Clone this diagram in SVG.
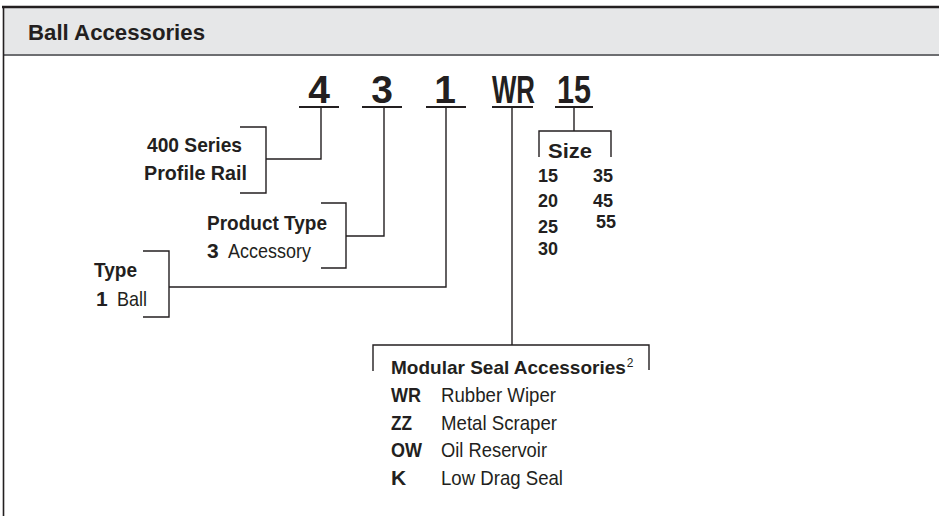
<svg xmlns="http://www.w3.org/2000/svg" width="939" height="516" viewBox="0 0 939 516">
<style>
.b{font-family:"Liberation Sans",Arial,sans-serif;font-weight:bold;fill:#231f20}
.r{font-family:"Liberation Sans",Arial,sans-serif;font-weight:normal;fill:#231f20}
.big{font-size:39px}
.lab{font-size:21px}
.sz{font-size:18px}
.ln{fill:none;stroke:#231f20;stroke-width:1.4}
.ul{fill:none;stroke:#231f20;stroke-width:2.2}
</style>
<rect width="939" height="516" fill="#ffffff"/>
<g id="frame">
  <rect x="3" y="7" width="940" height="48" fill="#e6e7e8"/>
  <line x1="2" y1="7" x2="939" y2="7" stroke="#231f20" stroke-width="2.5"/>
  <line x1="3" y1="55" x2="939" y2="55" stroke="#6d6e71" stroke-width="2"/>
  <line x1="3.5" y1="6" x2="3.5" y2="516" stroke="#231f20" stroke-width="1.6"/>
  <text class="b" x="28" y="40" font-size="22" textLength="177" lengthAdjust="spacingAndGlyphs">Ball Accessories</text>
</g>
<g id="code-4">
  <text class="b big" x="319" y="103" text-anchor="middle">4</text>
  <line class="ul" x1="299" y1="107" x2="339" y2="107"/>
</g>
<g id="code-3">
  <text class="b big" x="382" y="103" text-anchor="middle">3</text>
  <line class="ul" x1="362" y1="107" x2="402" y2="107"/>
</g>
<g id="code-1">
  <text class="b big" x="445" y="103" text-anchor="middle">1</text>
  <line class="ul" x1="426" y1="107" x2="466" y2="107"/>
</g>
<g id="code-WR">
  <text class="b big" x="492" y="103" textLength="43" lengthAdjust="spacingAndGlyphs">WR</text>
  <line class="ul" x1="492" y1="107" x2="533" y2="107"/>
</g>
<g id="code-15">
  <text class="b big" x="557" y="103" textLength="34" lengthAdjust="spacingAndGlyphs">15</text>
  <line class="ul" x1="555" y1="107" x2="593" y2="107"/>
</g>
<g id="connectors">
  <path class="ln" d="M321 107 V159 H266"/>
  <path class="ln" d="M384 107 V236 H346"/>
  <path class="ln" d="M446 107 V287 H169"/>
  <path class="ln" d="M512 107 V345"/>
  <path class="ln" d="M574 107 V131"/>
</g>
<g id="node-series">
  <path class="ln" d="M240 127 H266 V193 H240"/>
  <text class="b lab" x="147" y="152" textLength="95" lengthAdjust="spacingAndGlyphs">400 Series</text>
  <text class="b lab" x="144" y="180" textLength="103" lengthAdjust="spacingAndGlyphs">Profile Rail</text>
</g>
<g id="node-product-type">
  <path class="ln" d="M321 203 H346 V268 H321"/>
  <text class="b lab" x="207" y="230" textLength="120" lengthAdjust="spacingAndGlyphs">Product Type</text>
  <text class="b lab" x="207" y="258">3</text>
  <text class="r lab" x="228" y="258" textLength="83" lengthAdjust="spacingAndGlyphs">Accessory</text>
</g>
<g id="node-type">
  <path class="ln" d="M143 251 H169 V317 H143"/>
  <text class="b lab" x="94" y="277" textLength="43" lengthAdjust="spacingAndGlyphs">Type</text>
  <text class="b lab" x="96" y="306">1</text>
  <text class="r lab" x="117" y="306" textLength="30" lengthAdjust="spacingAndGlyphs">Ball</text>
</g>
<g id="node-size">
  <path class="ln" d="M539 157 V131 H611 V157"/>
  <text class="b lab" x="548" y="158" textLength="44" lengthAdjust="spacingAndGlyphs">Size</text>
  <text class="b sz" x="538" y="182">15</text>
  <text class="b sz" x="538" y="207">20</text>
  <text class="b sz" x="538" y="233">25</text>
  <text class="b sz" x="538" y="255">30</text>
  <text class="b sz" x="593" y="182">35</text>
  <text class="b sz" x="593" y="207">45</text>
  <text class="b sz" x="596" y="228">55</text>
</g>
<g id="node-seal">
  <path class="ln" d="M373 371 V345 H649 V370"/>
  <text class="b" x="391" y="374" font-size="19">Modular Seal Accessories<tspan class="r" font-size="12" dx="1" dy="-7">2</tspan></text>
  <text class="b lab" x="391" y="402" textLength="30" lengthAdjust="spacingAndGlyphs">WR</text>
  <text class="r lab" x="441" y="402" textLength="115" lengthAdjust="spacingAndGlyphs">Rubber Wiper</text>
  <text class="b lab" x="391" y="430" textLength="21" lengthAdjust="spacingAndGlyphs">ZZ</text>
  <text class="r lab" x="441" y="430" textLength="116" lengthAdjust="spacingAndGlyphs">Metal Scraper</text>
  <text class="b lab" x="391" y="457" textLength="31" lengthAdjust="spacingAndGlyphs">OW</text>
  <text class="r lab" x="441" y="457" textLength="106" lengthAdjust="spacingAndGlyphs">Oil Reservoir</text>
  <text class="b lab" x="391" y="485">K</text>
  <text class="r lab" x="441" y="485" textLength="122" lengthAdjust="spacingAndGlyphs">Low Drag Seal</text>
</g>
</svg>
